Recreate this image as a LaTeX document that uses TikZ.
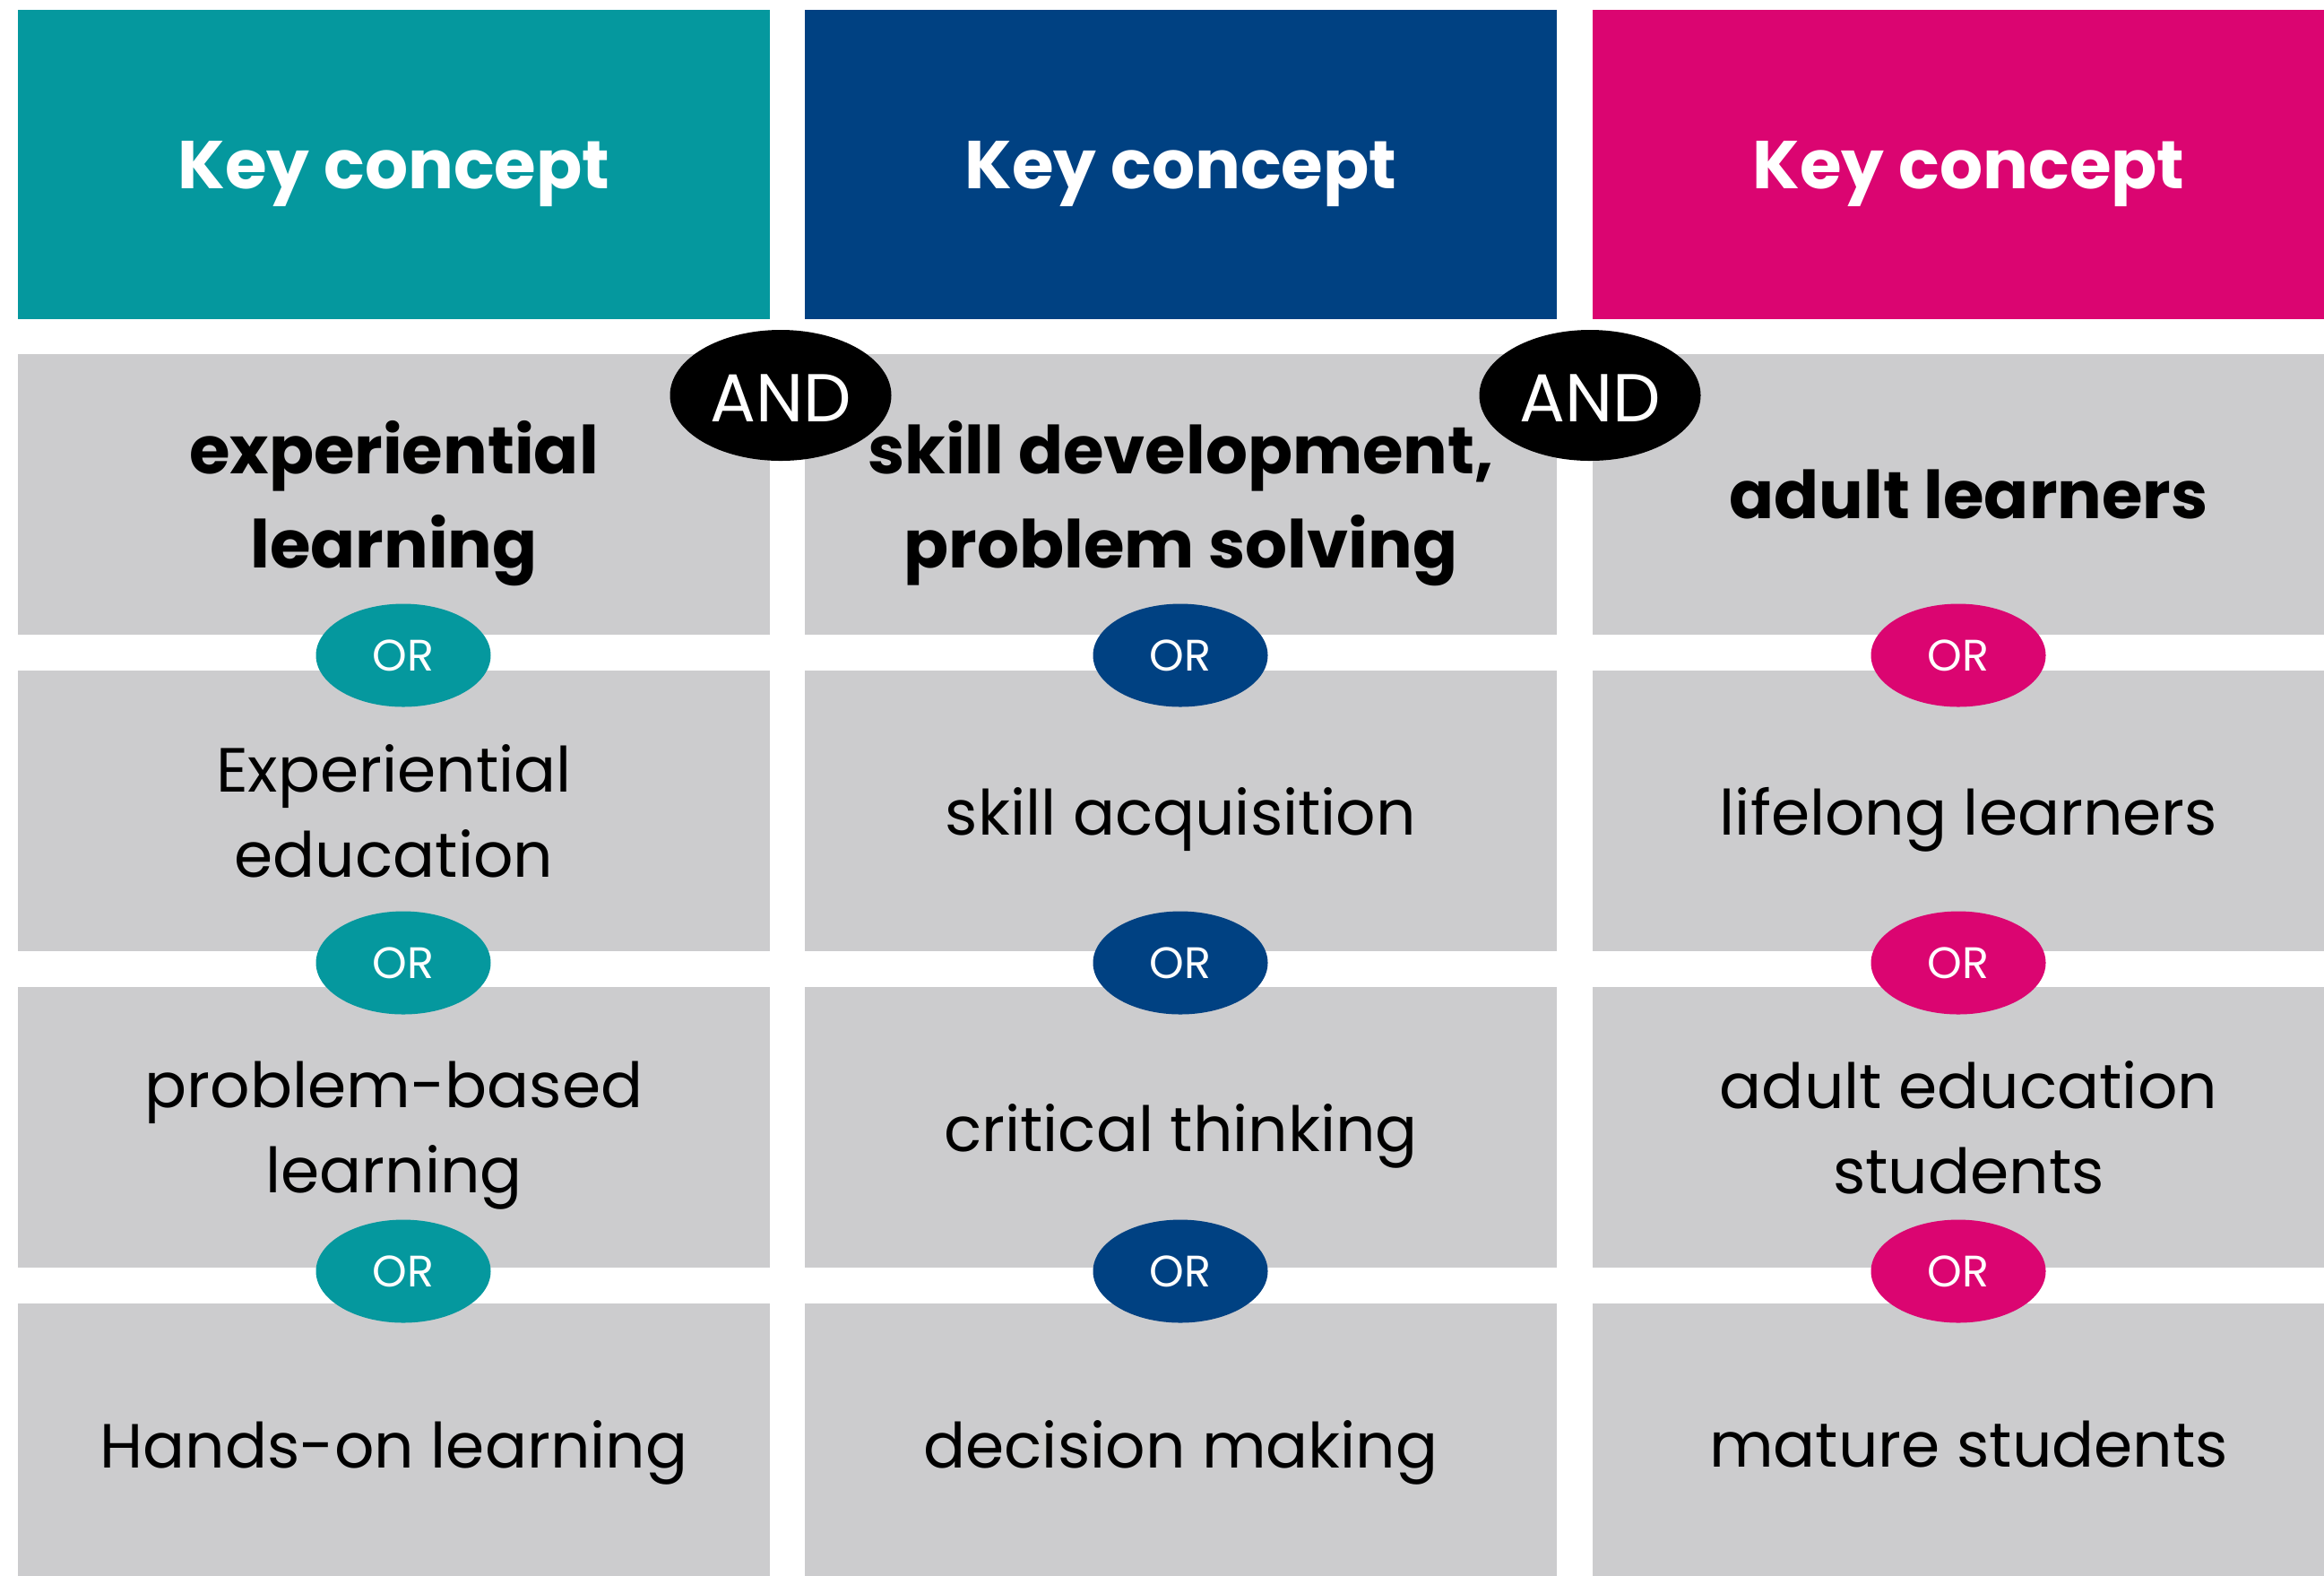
\documentclass[tikz,border=0pt]{standalone}
\usepackage{fontspec}
\setmainfont{Poppins}
\usetikzlibrary{shapes.geometric}
\definecolor{cteal}{HTML}{05989E}
\definecolor{cnavy}{HTML}{004182}
\definecolor{cpink}{HTML}{DB0571}
\definecolor{cgrey}{HTML}{CCCCCE}
\tikzset{
  head/.style={fill=#1, text=white, minimum width=8.39cm, minimum height=3.45cm, inner sep=0pt, text depth=0pt, font=\bfseries\fontsize{21.5}{26}\selectfont},
  cell/.style={fill=cgrey, minimum width=8.39cm, minimum height=3.13cm, inner sep=0pt, text depth=0pt, align=center, font=\fontsize{19.8}{27}\selectfont},
  term/.style={cell, font=\bfseries\fontsize{21}{30}\selectfont},
  orbub/.style={ellipse, fill=#1, text=white, minimum width=1.95cm, minimum height=1.15cm, inner sep=0pt, font=\fontsize{14}{14}\selectfont},
  andbub/.style={ellipse, fill=black, text=white, minimum width=2.47cm, minimum height=1.46cm, inner sep=0pt, text height=17pt, text depth=0pt, font=\fontsize{21.5}{22}\selectfont},
}

\begin{document}
\begin{tikzpicture}
  \useasboundingbox (0,0) rectangle (25.93,-17.57);
  \clip (0,0) rectangle (25.93,-17.57);
  \fill[white] (0,0) rectangle (25.93,-17.57);
  % ---------- key concept headers
  \node[head=cteal] (hd1) at (4.395,-1.835) {Key concept};
  \node[head=cnavy] (hd2) at (13.175,-1.835) {Key concept};
  \node[head=cpink] (hd3) at (21.965,-1.835) {Key concept};
  % ---------- first column
  \node[term] (c1r1) at (4.395,-5.515) {experiential\\learning};
  \node[cell] (c1r2) at (4.395,-9.045) {Experiential\\education};
  \node[cell] (c1r3) at (4.395,-12.575) {problem-based\\learning};
  \node[cell] (c1r4) at (4.395,-16.105) {Hands-on learning};
  % ---------- second column
  \node[term] (c2r1) at (13.175,-5.515) {skill development,\\problem solving};
  \node[cell] (c2r2) at (13.175,-9.045) {skill acquisition};
  \node[cell] (c2r3) at (13.175,-12.575) {critical thinking};
  \node[cell] (c2r4) at (13.175,-16.105) {decision making};
  % ---------- third column
  \node[term] (c3r1) at (21.965,-5.515) {adult learners};
  \node[cell] (c3r2) at (21.965,-9.045) {lifelong learners};
  \node[cell] (c3r3) at (21.965,-12.575) {adult education\\students};
  \node[cell] (c3r4) at (21.965,-16.105) {mature students};
  % ---------- OR between synonyms, AND between concepts
  \foreach \c/\x/\col in {1/4.50/cteal, 2/13.17/cnavy, 3/21.85/cpink}
    \foreach \r/\y in {1/-7.31, 2/-10.74, 3/-14.18}
      \node[orbub=\col] (or\c\r) at (\x,\y) {OR};
  \node[andbub] (and1) at (8.71,-4.41) {AND};
  \node[andbub] (and2) at (17.74,-4.41) {AND};
\end{tikzpicture}
\end{document}
